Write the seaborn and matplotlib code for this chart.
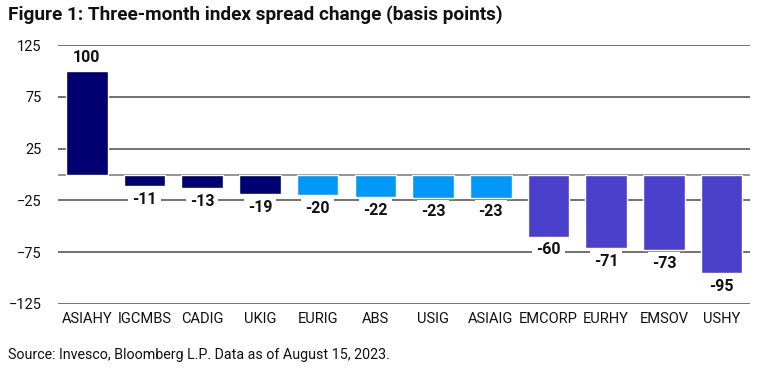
import numpy as np
import pandas as pd
import matplotlib
matplotlib.use("Agg")
import matplotlib.pyplot as plt
import seaborn as sns

# chart data
indices = ["ASIAHY", "IGCMBS", "CADIG", "UKIG", "EURIG", "ABS", "USIG", "ASIAIG",
           "EMCORP", "EURHY", "EMSOV", "USHY"]
spread_change = [100, -11, -13, -19, -20, -22, -23, -23, -60, -71, -73, -95]
groups = ["a", "a", "a", "a", "b", "b", "b", "b", "c", "c", "c", "c"]
y_ticks = [-125, -75, -25, 25, 75, 125]

group_colors = {"a": "#000070", "b": "#0099F8", "c": "#4A40CB"}

df = pd.DataFrame({"index": indices, "change": spread_change, "group": groups})

sns.set_style("white")
plt.rcParams["font.family"] = ["Roboto", "DejaVu Sans"]

fig = plt.figure(figsize=(7.66, 3.73), dpi=100)
ax = fig.add_axes([0.0757, 0.185, 0.904, 0.694])

sns.barplot(data=df, x="index", y="change", hue="group", palette=group_colors,
            dodge=False, width=0.72, saturation=1, legend=False, ax=ax, zorder=2)

# gridlines
ax.set_ylim(-125, 125)
ax.set_xlim(-0.5, len(indices) - 0.5)
ax.set_yticks(y_ticks)
ax.yaxis.grid(True, color="#4a4a4a", linewidth=1.1)
ax.axhline(0, color="#777777", linewidth=1.1, zorder=1)
ax.set_axisbelow(True)
sns.despine(ax=ax, left=True, bottom=True)
ax.tick_params(axis="both", length=0, labelsize=10.5, colors="#111111")
ax.tick_params(axis="y", pad=12)
ax.tick_params(axis="x", pad=6)
ax.set_xlabel("")
ax.set_ylabel("")

# value labels
for i, v in enumerate(spread_change):
    off = 9.5 if v > 0 else -9.5
    ax.annotate(str(v), xy=(i, v), xytext=(0, off), textcoords="offset points",
                ha="center", va="center", fontsize=11.5, fontweight="bold",
                color="#111111", zorder=5,
                bbox=dict(boxstyle="square,pad=0.25", fc="white", ec="none"))

fig.text(0.0105, 0.962, "Figure 1: Three-month index spread change (basis points)",
         fontsize=13.7, fontweight="bold", color="#111111", va="center")
fig.text(0.0105, 0.048, "Source: Invesco, Bloomberg L.P. Data as of August 15, 2023.",
         fontsize=10.3, color="#111111", va="center")

fig.savefig("out.png", dpi=100)
